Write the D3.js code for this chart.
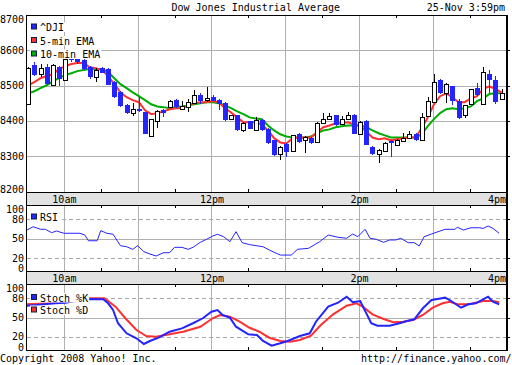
<!DOCTYPE html>
<html><head><meta charset="utf-8">
<script src="https://cdn.jsdelivr.net/npm/d3@7"></script>
<style>
body{margin:0;background:#fff}
svg{display:block}
text{font-family:"DejaVu Sans Mono",monospace;font-size:10px;fill:#000}
</style>
</head><body>
<svg id="c" width="512" height="365"></svg>
<script>
// ---------- DATA ----------
const title = "Dow Jones Industrial Average";
const stamp = "25-Nov 3:59pm";
const footLeft = "Copyright 2008 Yahoo! Inc.";
const footRight = "http://finance.yahoo.com/";
const timeLabels = ["10am","12pm","2pm","4pm"];
const timeLabelMin = [30,150,270,390];          // minutes after 9:30
const hourMin = [30,90,150,210,270,330];
const halfHourMin = [60,120,180,240,300,360];
const mainTicks = [8200,8300,8400,8500,8600,8700];
const oscTicks = [0,20,50,80,100];

// 5-minute candles from 9:30
const candleOpen = [8447,8558,8532,8553,8503,8553,8517,8579,8575,8572, 8553,8525,8550,8547,8510,8482,8446,8421,8435,8424, 8357,8401,8432,8438,8459,8435,8438,8452,8473,8459, 8468,8459,8451,8404,8416,8373,8399,8375,8402,8378, 8345,8307,8335,8316,8364,8345,8352,8339,8394,8404, 8416,8390,8404,8418,8364,8400,8326,8307,8316,8343, 8333,8342,8352,8364,8347,8413,8454,8515,8479,8498, 8457,8418,8447,8494,8447,8534,8517,8463];
const candleHigh = [8552,8566,8561,8561,8560,8556,8582,8585,8580,8574, 8555,8549,8552,8549,8512,8484,8448,8452,8468,8426, 8406,8430,8434,8459,8461,8457,8461,8487,8478,8496, 8473,8461,8453,8418,8418,8396,8401,8411,8404,8380, 8347,8328,8337,8361,8366,8356,8354,8396,8421,8421, 8418,8413,8424,8420,8399,8402,8328,8320,8339,8347, 8350,8366,8370,8366,8421,8469,8534,8520,8506,8500, 8462,8446,8491,8506,8553,8544,8527,8489];
const candleLow = [8445,8528,8523,8502,8501,8498,8515,8568,8562,8545, 8520,8510,8535,8501,8466,8439,8419,8414,8425,8362, 8355,8381,8411,8436,8436,8430,8425,8449,8449,8454, 8455,8430,8400,8402,8371,8368,8376,8373,8371,8335, 8300,8288,8297,8314,8338,8309,8335,8337,8392,8402, 8386,8388,8402,8362,8362,8331,8303,8280,8314,8299, 8331,8340,8350,8344,8345,8411,8452,8477,8451,8444, 8405,8407,8445,8471,8445,8478,8449,8461];
const candleClose = [8549,8530,8551,8504,8558,8520,8575,8572,8566,8547, 8525,8544,8537,8503,8468,8441,8421,8435,8431,8364, 8404,8428,8422,8457,8438,8441,8454,8473,8457,8466, 8457,8447,8402,8416,8373,8394,8378,8402,8373,8337, 8302,8326,8312,8359,8340,8354,8337,8394,8406,8413, 8388,8404,8416,8364,8397,8333,8305,8318,8337,8337, 8347,8352,8364,8347,8411,8456,8509,8479,8504,8457, 8407,8444,8489,8473,8539,8517,8454,8480];
const ema5 = [8501,8510,8521,8527,8532,8547,8555,8561,8564,8564, 8552,8549,8544,8527,8504,8481,8467,8459,8453,8430, 8419,8422,8427,8433,8436,8436,8444,8450,8453,8453, 8456,8453,8436,8424,8410,8396,8396,8396,8390,8373, 8351,8339,8336,8351,8353,8353,8353,8368,8382,8387, 8393,8393,8396,8390,8385,8370,8353,8348,8351,8345, 8348,8351,8353,8353,8379,8410,8447,8470,8478,8467, 8453,8453,8464,8470,8490,8498,8490,8481];
const ema10 = [8478,8484,8493,8501,8512,8521,8530,8535,8541,8544, 8547,8547,8547,8538,8521,8504,8493,8481,8470,8459, 8447,8441,8439,8436,8439,8441,8444,8447,8450,8453, 8453,8450,8444,8436,8427,8419,8410,8407,8405,8387, 8373,8362,8356,8353,8353,8353,8356,8365,8373,8376, 8382,8385,8387,8387,8387,8382,8373,8365,8359,8353, 8353,8353,8353,8353,8362,8385,8405,8422,8433,8436, 8433,8436,8441,8456,8464,8476,8478,8478];

const rsiMin = [0,5,11,15,20,24,30,43,47,50,57,60,65,70,76,81,86,90,95,100,105,111,116,120,126,131,135,141,146,151,155,160,165,170,175,181,192,197,206,215,220,229,238,245,253,260,265,269,275,279,284,290,295,300,304,310,315,319,323,329,336,340,348,350,355,361,368,371,375,379,384];
const rsiVal = [63.5,68.6,64.6,64.6,59.4,62,58.5,58.5,55.8,47,47,62.5,58.5,57,39.4,37.8,33.8,39.4,30.2,26.6,23.5,28.6,28.6,36.9,36.9,33.8,36.9,44.6,49.2,54.3,57,53.2,45.5,61,44,41,37.8,32.8,25,25,33.8,35.4,45.5,55.8,52.3,50.8,57.4,53.2,64.6,50.8,49.2,44.6,48.2,48.2,50.8,44,44,38.9,53.2,57.4,62,64.6,64.6,67.7,63.5,67,67,66,69.7,66,58.5];

const stochKMin = [0,8,16,23,31,41,51,62,66,70,74,81,89,95,100,107,116,126,135,143,150,155,159,165,170,180,187,192,199,206,212,222,230,235,245,253,260,265,271,280,285,295,303,309,315,322,329,334,340,345,353,359,365,371,375,379,384];
const stochKVal = [68.4,69.5,71,72.2,73,76,79,78.6,72.2,61.7,41,25.3,17.5,8.6,13.3,18.5,27.8,33,41,48.8,59,61.7,53.9,49.7,35.6,23.7,22.7,13.3,6,9.7,13.3,21.1,25.3,43.4,66.9,73.1,82.5,73.8,75.8,41,37.2,37.2,41,44.5,47.2,64.4,77.3,78.9,81,75.8,65.3,70.6,72.2,78.4,82.5,74.7,70.6];
const stochDMin = [0,31,51,63,72,80,89,97,105,116,127,141,151,157,165,173,181,189,197,206,214,222,231,239,249,260,268,273,281,290,298,306,314,322,330,338,344,350,360,371,379,384];
const stochDVal = [70.6,73.8,80,80,66.9,48.8,30.5,21.1,20,23.7,27.8,35.6,48.8,53.9,51.3,43.4,34,27.8,18.4,13.3,12.2,14.8,21.6,38.3,55,68.4,72.2,66.9,55,47.7,42.5,43.4,46.1,53.9,65.3,72.2,74.7,70.6,70.6,75.8,75.8,73.8];

// ---------- STYLE ----------
const BLUE = "#2424ff", RED = "#ff3030", GREEN = "#00ac00";
const GRID = "#b0b0b0", BAND = "#e2e2e2";

// ---------- SCALES ----------
const svg = d3.select("#c");
const base = new Date(2008,10,25,9,30);
const t = m => new Date(base.getTime() + m*60000);
const x = d3.scaleTime().domain([t(0), t(390)]).range([27, 506.5]);
const L = 27, R = 506;
const P = {main:{top:15,bottom:192}, rsi:{top:205,bottom:271}, sto:{top:284,bottom:350}};
const yMain = d3.scaleLinear().domain([8200,8700]).range([191.5,15]);
const yRsi = d3.scaleLinear().domain([0,100]).range([271.3,206.3]);
const ySto = d3.scaleLinear().domain([0,100]).range([349.5,285.5]);
const h = v => Math.round(v) + 0.5;
const cx = i => x(t(5*i + 1));

// ---------- BANDS ----------
[[192,205],[271,284]].forEach(([a,b]) => {
  svg.append("rect").attr("x",L).attr("y",a).attr("width",R-L+1).attr("height",b-a).attr("fill",BAND);
});

// ---------- GRIDS ----------
const grid = svg.append("g").attr("shape-rendering","crispEdges");
Object.values(P).forEach(p => {
  grid.selectAll(null).data(hourMin).enter().append("line")
    .attr("x1", d => h(x(t(d)))).attr("x2", d => h(x(t(d))))
    .attr("y1", p.top).attr("y2", p.bottom).attr("stroke", GRID);
  // half-hour ticks
  halfHourMin.forEach(m => {
    const xx = h(x(t(m)));
    grid.append("line").attr("x1",xx).attr("x2",xx).attr("y1",p.top).attr("y2",p.top+3).attr("stroke","#000");
    grid.append("line").attr("x1",xx).attr("x2",xx).attr("y1",p.bottom-3).attr("y2",p.bottom).attr("stroke","#000");
  });
});
[8300,8400,8500,8600].forEach(v => {
  grid.append("line").attr("x1",L).attr("x2",R).attr("y1",h(yMain(v))).attr("y2",h(yMain(v))).attr("stroke",GRID);
  grid.append("line").attr("x1",R).attr("x2",R+4).attr("y1",h(yMain(v))).attr("y2",h(yMain(v))).attr("stroke","#000");
});
[[yRsi],[ySto]].forEach(([ys]) => {
  [20,50,80].forEach(v => {
    grid.append("line").attr("x1",L).attr("x2",R).attr("y1",h(ys(v))).attr("y2",h(ys(v)))
      .attr("stroke", v===50 ? GRID : "#a8a8a8").attr("stroke-dasharray", v===50 ? null : "4,3");
    grid.append("line").attr("x1",R).attr("x2",R+4).attr("y1",h(ys(v))).attr("y2",h(ys(v))).attr("stroke","#000");
  });
});

// ---------- MAIN: EMA lines ----------
const lineMain = d3.line().x((d,i) => cx(i)).y(d => yMain(d));
svg.append("path").datum(ema10).attr("d", lineMain).attr("fill","none").attr("stroke",GREEN).attr("stroke-width",2);
svg.append("path").datum(ema5).attr("d", lineMain).attr("fill","none").attr("stroke",RED).attr("stroke-width",2);

// ---------- MAIN: candles ----------
const candles = candleOpen.map((o,i) => ({i, o, hi:candleHigh[i], lo:candleLow[i], c:candleClose[i]}));
const cg = svg.append("g").attr("shape-rendering","crispEdges");
const cs = cg.selectAll("g").data(candles).enter().append("g");
cs.append("line")
  .attr("x1", d => h(cx(d.i))).attr("x2", d => h(cx(d.i)))
  .attr("y1", d => Math.round(yMain(d.hi))).attr("y2", d => Math.round(yMain(d.lo)))
  .attr("stroke", d => d.c >= d.o ? "#000" : BLUE);
cs.each(function(d){
  const g = d3.select(this);
  const c = Math.round(cx(d.i));
  const top = Math.round(yMain(Math.max(d.o,d.c))), bot = Math.round(yMain(Math.min(d.o,d.c)));
  if (d.c >= d.o) {
    g.append("rect").attr("x", c-1.5).attr("y", top+0.5).attr("width",4).attr("height", Math.max(bot-top,1))
      .attr("fill","#fff").attr("stroke","#000").attr("shape-rendering","auto");
  } else {
    g.append("rect").attr("x", c-2).attr("y", top).attr("width",5).attr("height", Math.max(bot-top,2)).attr("fill",BLUE);
  }
});

// ---------- RSI ----------
const rsiLine = d3.line().x(d => x(t(d[0]))).y(d => yRsi(d[1]));
svg.append("path").datum(rsiMin.map((m,i)=>[m,rsiVal[i]])).attr("d",rsiLine)
  .attr("fill","none").attr("stroke",BLUE).attr("stroke-width",1);

// ---------- STOCH ----------
const stoLine = d3.line().x(d => x(t(d[0]))).y(d => ySto(d[1]));
svg.append("path").datum(stochDMin.map((m,i)=>[m,stochDVal[i]])).attr("d",stoLine)
  .attr("fill","none").attr("stroke",RED).attr("stroke-width",2);
svg.append("path").datum(stochKMin.map((m,i)=>[m,stochKVal[i]])).attr("d",stoLine)
  .attr("fill","none").attr("stroke",BLUE).attr("stroke-width",2);

// ---------- BORDERS ----------
const bd = svg.append("g").attr("shape-rendering","crispEdges");
bd.append("line").attr("x1",h(L)-1).attr("x2",h(L)-1).attr("y1",P.main.top).attr("y2",P.sto.bottom+1).attr("stroke","#000");
bd.append("rect").attr("x",R).attr("y",P.main.top).attr("width",2).attr("height",P.sto.bottom-P.main.top+1).attr("fill","#000");
[15,192,205,271,284,350].forEach(y => {
  bd.append("line").attr("x1",L-1).attr("x2",R+1).attr("y1",y+0.5).attr("y2",y+0.5).attr("stroke","#000");
});

// ---------- LEGENDS ----------
function legend(items, baselines){
  items.forEach(([label,col],k) => {
    const b = baselines[k];
    const g = svg.append("g");
    const bg = g.append("rect").attr("fill","#fff");
    g.append("rect").attr("x",31.5).attr("y",b-7).attr("width",5).attr("height",5)
      .attr("fill",col).attr("stroke","#102040").attr("stroke-width",1);
    const tx = g.append("text").attr("x",40).attr("y",b).text(label);
    const w = tx.node().getComputedTextLength();
    bg.attr("x",30).attr("y",b-8.5).attr("width",w+11).attr("height",9.5);
  });
}
legend([["^DJI",BLUE],["5-min EMA",RED],["10-min EMA",GREEN]],[31,44.5,58]);
legend([["RSI",BLUE]],[221]);
legend([["Stoch %K",BLUE],["Stoch %D",RED]],[301.5,314]);

// ---------- Y AXES ----------
function yAxis(scale, ticks, p, fmt){
  const g = svg.append("g").attr("transform","translate(24,0)")
    .call(d3.axisLeft(scale).tickValues(ticks).tickSize(0).tickPadding(0).tickFormat(fmt));
  g.select(".domain").remove();
  g.selectAll(".tick").attr("transform", d => {
    const yy = Math.max(p.top+5, Math.min(p.bottom-2.5, scale(d)));
    return `translate(0,${yy})`;
  });
  g.selectAll("text").attr("font-family",null).attr("font-size",null).attr("dy","0.34em");
  g.attr("font-family",null).attr("font-size",null);
}
yAxis(yMain, mainTicks, P.main, d3.format("d"));
yAxis(yRsi, oscTicks, P.rsi, d3.format("d"));
yAxis(ySto, oscTicks, P.sto, d3.format("d"));

// ---------- TIME AXES ----------
[192,271].forEach(bt => {
  const g = svg.append("g").attr("transform",`translate(0,${bt})`)
    .call(d3.axisBottom(x).tickValues(timeLabelMin.map(t)).tickSize(0).tickPadding(3.6)
      .tickFormat((d,i) => timeLabels[i]));
  g.select(".domain").remove();
  g.attr("font-family",null).attr("font-size",null);
  g.selectAll("text").filter((d,i) => i === timeLabels.length-1).attr("text-anchor","end").attr("dx",-1);
});

// ---------- HEADER / FOOTER ----------
svg.append("text").attr("x",171.5).attr("y",11).text(title);
svg.append("text").attr("x",505).attr("y",11).attr("text-anchor","end").text(stamp);
svg.append("text").attr("x",0).attr("y",362).text(footLeft);
svg.append("text").attr("x",511.5).attr("y",362).attr("text-anchor","end").text(footRight);
</script>
</body></html>
